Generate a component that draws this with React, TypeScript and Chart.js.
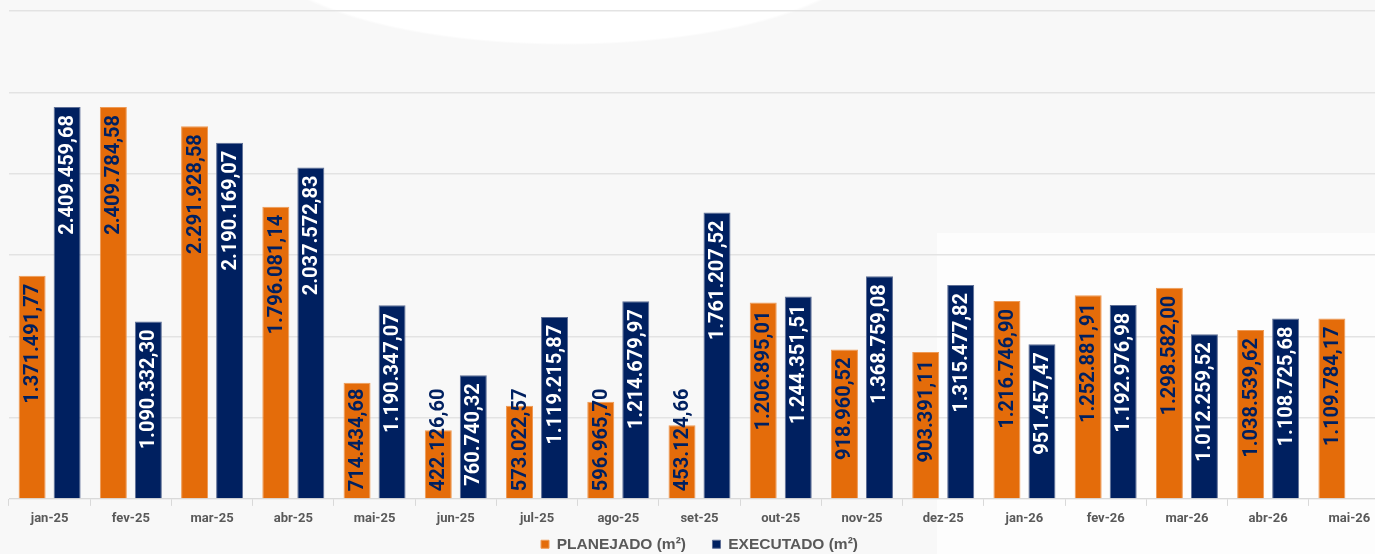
import React, { useEffect, useRef } from "react";
import { Chart, registerables } from "chart.js";

Chart.register(...registerables);

const categories = [
  "jan-25", "fev-25", "mar-25", "abr-25", "mai-25", "jun-25", "jul-25", "ago-25",
  "set-25", "out-25", "nov-25", "dez-25", "jan-26", "fev-26", "mar-26", "abr-26", "mai-26",
];

const planejado = [
  1371491.77, 2409784.58, 2291928.58, 1796081.14, 714434.68, 422126.6, 573022.57, 596965.7,
  453124.66, 1206895.01, 918960.52, 903391.11, 1216746.9, 1252881.91, 1298582.0, 1038539.62, 1109784.17,
];

const executado = [
  2409459.68, 1090332.3, 2190169.07, 2037572.83, 1190347.07, 760740.32, 1119215.87, 1214679.97,
  1761207.52, 1244351.51, 1368759.08, 1315477.82, 951457.47, 1192976.98, 1012259.52, 1108725.68, null,
];

const seriesNames = ["PLANEJADO (m²)", "EXECUTADO (m²)"];
const yMax = 3000000;
const yStep = 500000;

const ORANGE = "#E46C0A";
const NAVY = "#002060";

function formatBR(v: number): string {
  const fixed = v.toFixed(2);
  const [intPart, dec] = fixed.split(".");
  const withDots = intPart.replace(/\B(?=(\d{3})+(?!\d))/g, ".");
  return withDots + "," + dec;
}

const barLabelPlugin = {
  id: "barLabels",
  afterDatasetsDraw(chart: any) {
    const ctx = chart.ctx;
    ctx.save();
    ctx.font = "bold 20px Roboto";
    ctx.textAlign = "left";
    ctx.textBaseline = "middle";
    chart.data.datasets.forEach((ds: any, di: number) => {
      const meta = chart.getDatasetMeta(di);
      if (meta.hidden) return;
      meta.data.forEach((bar: any, i: number) => {
        const v = ds.data[i];
        if (v === null || v === undefined) return;
        const text = formatBR(v);
        const w = ctx.measureText(text).width;
        let top = bar.y + 8;
        const limit = bar.base - 7;
        if (top + w > limit) top = limit - w;
        ctx.save();
        ctx.translate(bar.x + 1, top + w);
        ctx.rotate(-Math.PI / 2);
        ctx.fillStyle = di === 0 ? NAVY : "#FFFFFF";
        ctx.fillText(text, 0, 0);
        ctx.restore();
      });
    });
    ctx.restore();
  },
};

export default function App() {
  const canvasRef = useRef<HTMLCanvasElement | null>(null);

  useEffect(() => {
    if (!canvasRef.current) return;
    const chart = new Chart(canvasRef.current, {
      type: "bar",
      data: {
        labels: categories,
        datasets: [
          {
            label: seriesNames[0],
            data: planejado,
            backgroundColor: ORANGE,
            borderColor: "#EE9A55",
            borderWidth: 1,
            categoryPercentage: 0.862,
            barPercentage: 0.771,
          },
          {
            label: seriesNames[1],
            data: executado,
            backgroundColor: NAVY,
            borderColor: "#5E6F96",
            borderWidth: 1,
            categoryPercentage: 0.862,
            barPercentage: 0.771,
          },
        ],
      },
      options: {
        responsive: false,
        animation: false,
        devicePixelRatio: 1,
        layout: { padding: { left: 9, right: 0, top: 11, bottom: 0 } },
        plugins: {
          legend: {
            position: "bottom",
            labels: {
              boxWidth: 8,
              boxHeight: 8,
              padding: 5,
              color: "#595959",
              font: { family: "'Liberation Sans', Arial, sans-serif", size: 15.5, weight: "bold" },
              generateLabels(chart: any) {
                const items = Chart.defaults.plugins.legend.labels.generateLabels(chart);
                return items.map((it: any, idx: number) => ({
                  ...it,
                  text: idx === 0 ? it.text + "     " : it.text,
                }));
              },
            },
          },
          tooltip: { enabled: false },
        },
        scales: {
          x: {
            grid: {
              display: true,
              drawOnChartArea: false,
              drawTicks: true,
              tickLength: 7,
              color: "#D9D9D9",
              lineWidth: 1,
            },
            border: { display: true, color: "#D9D9D9", width: 1 },
            ticks: {
              color: "#595959",
              padding: 5,
              font: { family: "Roboto, sans-serif", size: 13, weight: "bold" },
              maxRotation: 0,
              autoSkip: false,
            },
          },
          y: {
            min: 0,
            max: yMax,
            ticks: { display: false, stepSize: yStep },
            grid: { color: "#E3E3E3", lineWidth: 1.5, drawTicks: false },
            border: { display: false },
          },
        },
      },
      plugins: [barLabelPlugin],
    });
    return () => chart.destroy();
  }, []);

  return (
    <div
      style={{
        position: "fixed",
        left: 0,
        top: 0,
        width: 1375,
        height: 554,
        overflow: "hidden",
        background:
          "radial-gradient(ellipse 310px 100px at 565px -55px, #ffffff 0%, #ffffff 98%, rgba(255,255,255,0) 100%), linear-gradient(to right, rgba(0,0,0,0) 937px, #fdfdfd 937px) 0 233px / 100% 321px no-repeat, #f8f8f8",
      }}
    >
      <canvas ref={canvasRef} width={1390} height={562} style={{ display: "block" }} />
    </div>
  );
}
